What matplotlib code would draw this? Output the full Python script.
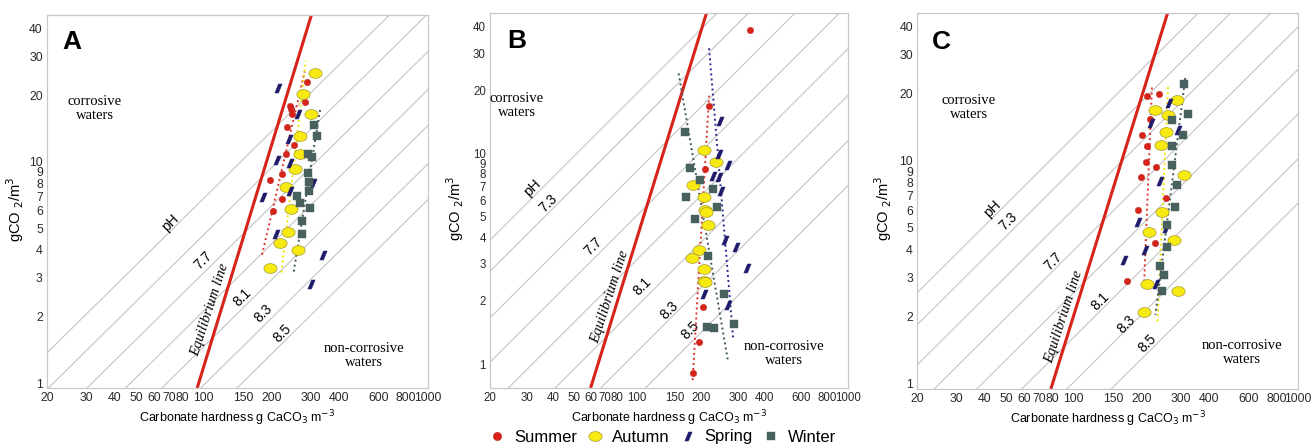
import matplotlib
matplotlib.use('Agg')
import matplotlib.pyplot as plt
from matplotlib.path import Path
from matplotlib.transforms import Affine2D
from matplotlib.lines import Line2D
from matplotlib.ticker import NullLocator

plt.rcParams['font.family'] = ['Liberation Sans', 'DejaVu Sans']

# ---- data (hardness g CaCO3/m3, CO2 g/m3) ----
# panel A
a_summer_x = [290, 282, 242, 244, 248, 236, 252, 232, 223, 197, 223, 203]
a_summer_y = [23.0, 18.6, 17.8, 17.4, 16.4, 14.3, 11.9, 10.9, 8.8, 8.3, 6.8, 6.0]
a_autumn_x = [314, 278, 300, 268, 268, 256, 232, 244, 237, 219, 262, 197]
a_autumn_y = [25.1, 20.2, 16.5, 13.1, 10.9, 9.3, 7.7, 6.1, 4.8, 4.3, 4.0, 3.3]
a_spring_x = [215, 262, 240, 213, 242, 308, 242, 184, 211, 341, 301]
a_spring_y = [21.6, 16.4, 12.7, 10.2, 9.9, 8.0, 7.4, 6.9, 4.7, 3.8, 2.8]
a_winter_x = [310, 319, 291, 303, 291, 294, 294, 261, 268, 297, 275, 275]
a_winter_y = [14.6, 13.1, 10.8, 10.5, 8.9, 8.1, 7.4, 7.0, 6.5, 6.2, 5.4, 4.7]
a_trends = {'summer': ([182, 282], [3.8, 25.6]),
            'autumn': ([222, 285], [3.16, 28.6]),
            'winter': ([252, 332], [3.19, 17.7])}
a_equil_x = [93.5, 302]
a_equil_y = [0.95, 46]

# panel B
b_summer_x = [344, 218, 210, 205, 197, 183]
b_summer_y = [38.6, 16.9, 8.4, 1.87, 1.27, 0.91]
b_autumn_x = [208, 237, 183, 208, 209, 211, 217, 197, 182, 208, 208, 210]
b_autumn_y = [10.4, 9.1, 7.1, 6.2, 5.4, 5.3, 4.6, 3.5, 3.2, 2.84, 2.49, 2.45]
b_spring_x = [246, 243, 268, 229, 244, 250, 260, 293, 330, 208, 270]
b_spring_y = [14.3, 10.0, 8.85, 7.85, 7.76, 6.64, 3.88, 3.61, 2.87, 2.15, 1.91]
b_winter_x = [168, 177, 198, 170, 229, 240, 187, 216, 258, 213, 230, 287]
b_winter_y = [12.6, 8.5, 7.5, 6.2, 6.8, 5.6, 4.9, 3.26, 2.15, 1.50, 1.49, 1.55]
b_trends = {'summer': ([183, 219], [0.84, 18.8]),
            'spring': ([219, 285], [31.6, 1.32]),
            'winter': ([157, 269], [24.0, 1.04])}
b_equil_x = [60, 213]
b_equil_y = [0.77, 46.5]

# panel C
c_summer_x = [212, 240, 218, 201, 212, 209, 233, 199, 258, 193, 231, 173]
c_summer_y = [19.6, 20.0, 15.4, 13.1, 11.7, 9.9, 9.4, 8.5, 6.8, 6.0, 4.3, 2.9]
c_autumn_x = [289, 229, 263, 257, 245, 309, 248, 217, 281, 213, 292, 205]
c_autumn_y = [18.8, 16.9, 16.1, 13.5, 11.8, 8.6, 5.9, 4.8, 4.4, 2.8, 2.6, 2.1]
c_spring_x = [267, 221, 291, 241, 193, 258, 207, 167, 233]
c_spring_y = [18.1, 14.8, 13.8, 8.1, 5.3, 5.0, 4.0, 3.6, 2.8]
c_winter_x = [310, 323, 273, 306, 275, 275, 287, 284, 259, 259, 241, 253, 247]
c_winter_y = [22.1, 16.2, 15.3, 13.1, 11.7, 9.6, 7.8, 6.2, 5.15, 4.13, 3.39, 3.07, 2.62]
c_trends = {'summer': ([223, 206], [21.3, 2.9]),
            'autumn': ([263, 236], [21.4, 1.86]),
            'winter': ([314, 231], [23.5, 2.04])}
c_equil_x = [79, 262]
c_equil_y = [0.95, 46]

# pH isolines: CO2 reached at a hardness of 100 g/m3
a_ph = [7.3, 7.5, 7.7, 7.9, 8.1, 8.3, 8.5]
a_ph_co2 = [6.84, 4.68, 3.15, 2.12, 1.46, 0.98, 0.675]
b_ph = [7.1, 7.3, 7.5, 7.7, 7.9, 8.1, 8.3, 8.5]
b_ph_co2 = [19.4, 13.8, 8.3, 5.1, 3.15, 1.89, 1.15, 0.705]
c_ph = [7.1, 7.3, 7.5, 7.7, 7.9, 8.1, 8.3, 8.5]
c_ph_co2 = [12.8, 9.2, 6.08, 3.98, 2.57, 1.62, 1.02, 0.646]

# labels on the isolines (text, hardness, CO2)
a_ph_labels = [('pH', 71, 5.3), ('7.7', 99.8, 3.6), ('8.1', 148, 2.45),
               ('8.3', 185, 2.07), ('8.5', 224, 1.68)]
b_ph_labels = [('pH', 31.9, 6.84), ('7.3', 37.8, 5.81), ('7.7', 61.9, 3.64),
               ('8.1', 105.9, 2.33), ('8.3', 141.6, 1.79), ('8.5', 178.2, 1.45)]
c_ph_labels = [('pH', 43.2, 6.12), ('7.3', 51.2, 5.35), ('7.7', 80.7, 3.53),
               ('8.1', 131.2, 2.34), ('8.3', 171.4, 1.84), ('8.5', 212.3, 1.52)]

x_ticks = [20, 30, 40, 50, 60, 70, 80, 100, 150, 200, 300, 400, 600, 800, 1000]
y_ticks = [1, 2, 3, 4, 5, 6, 7, 8, 9, 10, 20, 30, 40]

# ---- styles ----
c_red = '#d8231b'
c_yellow = '#f7ea12'
c_navy = '#1f1b6b'
c_slate = '#48605e'
ellipse = Path.unit_circle().transformed(Affine2D().scale(1.35, 1.0))
slash = Path([(-0.45, -0.55), (0.0, -0.55), (0.45, 0.55), (0.0, 0.55), (-0.45, -0.55)],
             [Path.MOVETO, Path.LINETO, Path.LINETO, Path.LINETO, Path.CLOSEPOLY])

styles = {
    'summer': dict(marker='o', ms=4.6, mfc=c_red, mec='#b01a14', mew=0.3),
    'autumn': dict(marker=ellipse, ms=9.5, mfc=c_yellow, mec='#a89a30', mew=0.5),
    'spring': dict(marker=slash, ms=6.5, mfc=c_navy, mec=c_navy, mew=0.3),
    'winter': dict(marker='s', ms=5.5, mfc=c_slate, mec=c_slate, mew=0.3),
}
trend_colors = {'summer': '#e0332a', 'autumn': '#f2e200', 'spring': '#2b2a90', 'winter': '#3f5958'}

fig = plt.figure(figsize=(13.12, 4.46), dpi=100)
axA = fig.add_axes([0.0358, 0.130, 0.2904, 0.836])
axB = fig.add_axes([0.3735, 0.130, 0.2729, 0.841])
axC = fig.add_axes([0.6990, 0.128, 0.2904, 0.843])

panels = [
    (axA, 'A', (0.95, 46), a_ph, a_ph_co2, a_ph_labels, a_equil_x, a_equil_y,
     [(a_summer_x, a_summer_y), (a_autumn_x, a_autumn_y), (a_spring_x, a_spring_y), (a_winter_x, a_winter_y)],
     a_trends, (0.066, 0.928), (0.126, 0.75), (0.832, 0.086), (107, 2.14), -0.084, 8.8),
    (axB, 'B', (0.77, 46.5), b_ph, b_ph_co2, b_ph_labels, b_equil_x, b_equil_y,
     [(b_summer_x, b_summer_y), (b_autumn_x, b_autumn_y), (b_spring_x, b_spring_y), (b_winter_x, b_winter_y)],
     b_trends, (0.075, 0.926), (0.075, 0.752), (0.821, 0.091), (74.5, 2.08), -0.098, 8.3),
    (axC, 'C', (0.95, 46), c_ph, c_ph_co2, c_ph_labels, c_equil_x, c_equil_y,
     [(c_summer_x, c_summer_y), (c_autumn_x, c_autumn_y), (c_spring_x, c_spring_y), (c_winter_x, c_winter_y)],
     c_trends, (0.065, 0.924), (0.136, 0.749), (0.854, 0.097), (90, 2.0), -0.089, 8.8),
]

seasons = ['summer', 'autumn', 'spring', 'winter']

for (ax, letter, ylim, ph, ph_co2, ph_labels, eq_x, eq_y, points, trends,
     letter_pos, corr_pos, noncorr_pos, eq_lab, ylab_x, tick_size) in panels:
    ax.set_xscale('log')
    ax.set_yscale('log')
    ax.set_xlim(20, 1000)
    ax.set_ylim(*ylim)

    # pH isolines (slope 1 in log-log)
    for p, c in zip(ph, ph_co2):
        ax.plot([20, 1000], [c * 20 / 100, c * 1000 / 100], color='#c4c4c4', lw=0.8, zorder=1)
    for txt, lx, ly in ph_labels:
        ax.text(lx, ly, txt, rotation=45, ha='center', va='center', fontsize=10,
                rotation_mode='anchor', zorder=3)

    ax.plot(eq_x, eq_y, color=c_red, lw=2.2, zorder=2, solid_capstyle='butt')
    ax.text(eq_lab[0], eq_lab[1], 'Equilibrium line', rotation=72, ha='center', va='center',
            fontsize=10.5, family='Liberation Serif', style='italic', rotation_mode='anchor')

    for s, (xs, ys) in zip(seasons, points):
        ax.plot(xs, ys, linestyle='none', zorder=5, **styles[s])
    for s, (tx, ty) in trends.items():
        ax.plot(tx, ty, color=trend_colors[s], lw=1.4, linestyle=(0, (1, 1.6)), zorder=4)

    ax.text(*letter_pos, letter, transform=ax.transAxes, fontsize=19, fontweight='bold',
            ha='center', va='center')
    ax.text(*corr_pos, 'corrosive\nwaters', transform=ax.transAxes, fontsize=10.5,
            family='Liberation Serif', ha='center', va='center', linespacing=1.1)
    ax.text(*noncorr_pos, 'non-corrosive\nwaters', transform=ax.transAxes, fontsize=10.5,
            family='Liberation Serif', ha='center', va='center', linespacing=1.1)

    ax.set_xticks(x_ticks)
    ax.set_xticklabels([str(t) for t in x_ticks])
    ax.set_yticks(y_ticks)
    ax.set_yticklabels([str(t) for t in y_ticks])
    ax.xaxis.set_minor_locator(NullLocator())
    ax.yaxis.set_minor_locator(NullLocator())
    ax.tick_params(length=0, labelsize=tick_size, colors='#2a2a2a', pad=3)
    for sp in ax.spines.values():
        sp.set_color('#c8c8c8')
        sp.set_linewidth(0.9)

    ax.set_xlabel('Carbonate hardness g CaCO$_3$ m$^{-3}$', fontsize=9, labelpad=3)
    ax.set_ylabel('gCO $_2$/m$^3$', fontsize=10.5, ha='center', va='center')
    ax.yaxis.set_label_coords(ylab_x, 0.48)

handles = [Line2D([], [], linestyle='none', **styles[s]) for s in seasons]
handles[0].set_markersize(6)
fig.legend(handles, ['Summer', 'Autumn', 'Spring', 'Winter'], loc='center',
           bbox_to_anchor=(0.505, 1 - 437 / 446), ncol=4, frameon=False,
           handletextpad=0.5, columnspacing=0.6, handlelength=1.0, fontsize=12)

fig.savefig('out.png', dpi=100)
